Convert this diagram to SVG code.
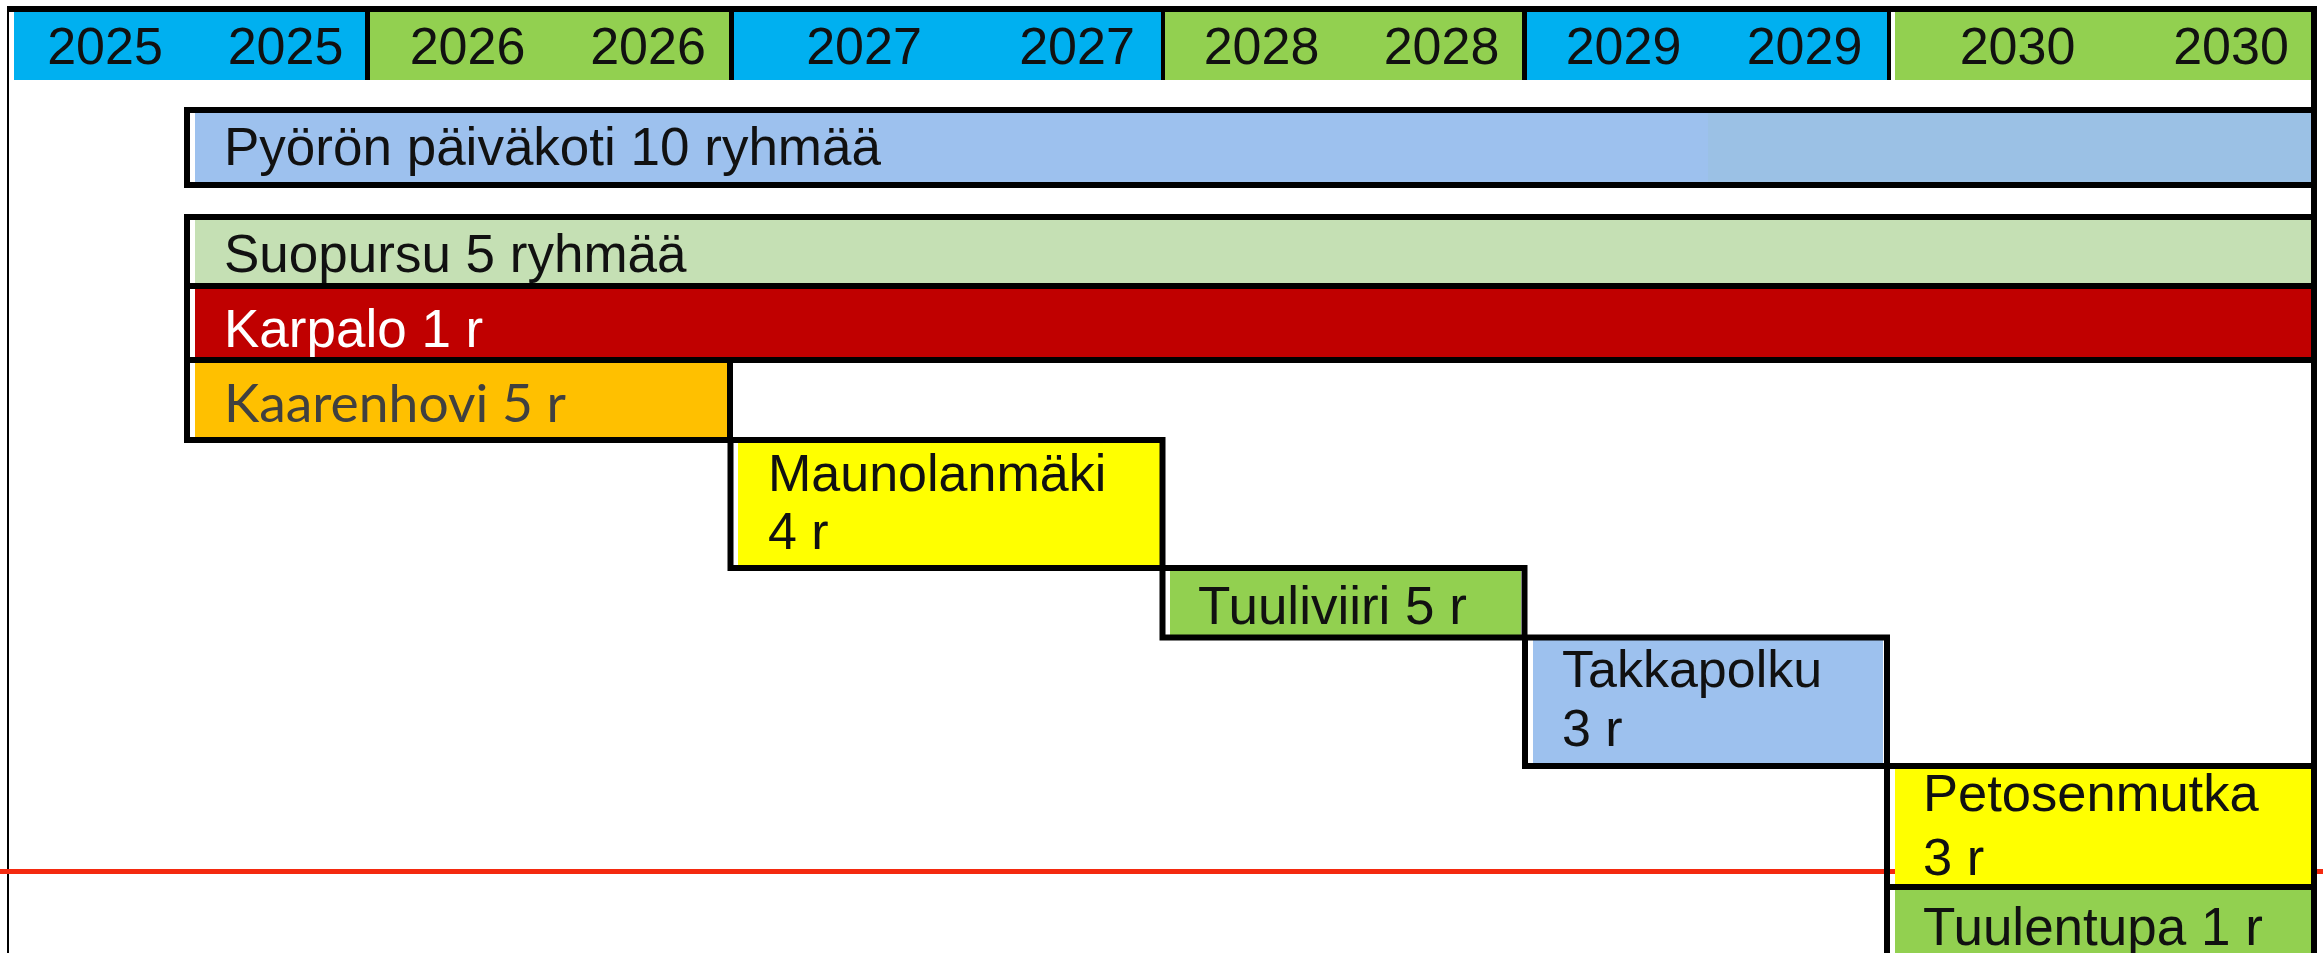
<svg xmlns="http://www.w3.org/2000/svg" width="2323" height="953" viewBox="0 0 2323 953">
<style>
  .t { font-family: "Liberation Sans", Arial, sans-serif; font-size: 53px; fill: #111111; }
  .yr { font-family: "Liberation Sans", Arial, sans-serif; font-size: 52px; fill: #111111; text-anchor: middle; }
  .b { fill: none; stroke: #000000; stroke-width: 6; }
  .blue { fill: #00B0F0; }
  .green { fill: #92D050; }
</style>
<rect x="0" y="0" width="2323" height="953" fill="#FFFFFF"/>
<g id="frame">
  <line x1="8" y1="6" x2="8" y2="953" stroke="#000" stroke-width="2"/>
  <line x1="7" y1="9" x2="2317" y2="9" stroke="#000" stroke-width="6"/>
</g>
<g id="header">
  <rect class="blue" x="14" y="12" width="351" height="68"/>
  <rect class="green" x="370" y="12" width="359" height="68"/>
  <rect class="blue" x="734" y="12" width="427" height="68"/>
  <rect class="green" x="1165" y="12" width="357" height="68"/>
  <rect class="blue" x="1527" y="12" width="360" height="68"/>
  <rect class="green" x="1895" y="12" width="416" height="68"/>
  <g fill="#000">
    <rect x="365" y="12" width="5" height="68"/>
    <rect x="729" y="12" width="5" height="68"/>
    <rect x="1161" y="12" width="4" height="68"/>
    <rect x="1522" y="12" width="5" height="68"/>
    <rect x="1887" y="12" width="4" height="68"/>
  </g>
  <text class="yr" x="105" y="64">2025</text>
  <text class="yr" x="285.5" y="64">2025</text>
  <text class="yr" x="467.5" y="64">2026</text>
  <text class="yr" x="648" y="64">2026</text>
  <text class="yr" x="864" y="64">2027</text>
  <text class="yr" x="1077" y="64">2027</text>
  <text class="yr" x="1261.5" y="64">2028</text>
  <text class="yr" x="1441.5" y="64">2028</text>
  <text class="yr" x="1623.5" y="64">2029</text>
  <text class="yr" x="1804.5" y="64">2029</text>
  <text class="yr" x="2017.5" y="64">2030</text>
  <text class="yr" x="2231" y="64">2030</text>
</g>
<g id="connectors">
  <line id="today-line" x1="0" y1="871.5" x2="2323" y2="871.5" stroke="#F42A10" stroke-width="5"/>
</g>
<g id="pyoro">
  <rect x="195" y="113" width="1513" height="69" fill="#9DC1EE"/>
  <rect x="1708" y="113" width="603" height="69" fill="#9BC1E5"/>
  <rect class="b" x="187" y="110" width="2127" height="75"/>
  <text class="t" x="224" y="165">Pyörön päiväkoti 10 ryhmää</text>
</g>
<g id="suopursu">
  <rect x="195" y="220" width="2116" height="63" fill="#C5E0B4"/>
  <rect class="b" x="187" y="217" width="2127" height="69"/>
  <text class="t" x="224" y="272">Suopursu 5 ryhmää</text>
</g>
<g id="karpalo">
  <rect x="195" y="289" width="2116" height="68" fill="#C00000"/>
  <rect class="b" x="187" y="286" width="2127" height="74"/>
  <text class="t" x="224" y="347" style="fill:#FFFFFF">Karpalo 1 r</text>
</g>
<g id="kaarenhovi">
  <rect x="195" y="363" width="533" height="74" fill="#FFC000"/>
  <rect class="b" x="187" y="360" width="543" height="80"/>
  <text x="224" y="422" font-family="Lato, 'Open Sans', sans-serif" font-size="53" fill="#404040" textLength="342" lengthAdjust="spacingAndGlyphs">Kaarenhovi 5 r</text>
</g>
<g id="maunolanmaki">
  <rect x="738" y="443" width="422" height="122" fill="#FFFF00"/>
  <rect class="b" x="730.5" y="440" width="432" height="128"/>
  <text class="t" x="768" y="491" style="font-size:52px">Maunolanmäki</text>
  <text class="t" x="768" y="549" style="font-size:52px">4 r</text>
</g>
<g id="tuuliviiri">
  <rect x="1170" y="571" width="351" height="64" fill="#92D050"/>
  <rect class="b" x="1162.5" y="568" width="362" height="69.5"/>
  <text class="t" x="1198" y="624">Tuuliviiri 5 r</text>
</g>
<g id="takkapolku">
  <rect x="1533" y="640" width="350" height="123" fill="#9DC1EE"/>
  <rect class="b" x="1525" y="637.5" width="362" height="128.5"/>
  <text class="t" x="1562" y="687" style="font-size:52px">Takkapolku</text>
  <text class="t" x="1562" y="746" style="font-size:52px">3 r</text>
</g>
<g id="petosenmutka">
  <rect x="1895" y="769" width="416" height="115" fill="#FFFF00"/>
  <rect class="b" x="1887" y="766" width="427" height="121"/>
  <text class="t" x="1923" y="811" style="font-size:52.5px">Petosenmutka</text>
  <text class="t" x="1923" y="875" style="font-size:52.5px">3 r</text>
</g>
<g id="tuulentupa">
  <rect x="1895" y="890" width="416" height="70" fill="#92D050"/>
  <rect class="b" x="1887" y="887" width="427" height="100"/>
  <text class="t" x="1923" y="945">Tuulentupa 1 r</text>
</g>
<g id="right-edge">
  <line x1="2314" y1="6" x2="2314" y2="953" stroke="#000" stroke-width="6"/>
</g>
</svg>
